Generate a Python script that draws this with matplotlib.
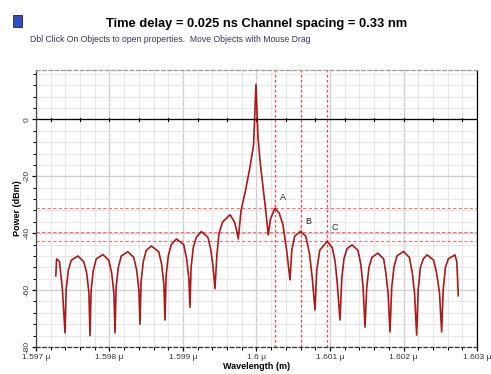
import numpy as np
import matplotlib
matplotlib.use("Agg")
import matplotlib.pyplot as plt
from matplotlib.patches import Rectangle

plt.rcParams['font.family'] = ['Liberation Sans', 'DejaVu Sans']

# spectrum (wavelength in micron, power in dBm)
wl = [1.59727, 1.59728, 1.59732, 1.59736, 1.597395,
      1.59741, 1.59744, 1.59748, 1.59757, 1.59765, 1.59769, 1.59772, 1.597735,
      1.59775, 1.59778, 1.59782, 1.59791, 1.59799, 1.59803, 1.59806, 1.598075,
      1.59809, 1.59812, 1.59816, 1.59825, 1.59833, 1.59837, 1.59840, 1.598415,
      1.59843, 1.59846, 1.59850, 1.59857, 1.59867, 1.59871, 1.59874, 1.598755,
      1.59877, 1.59880, 1.59884, 1.59891, 1.59901, 1.59905, 1.59908, 1.599095,
      1.59911, 1.59914, 1.59918, 1.59925, 1.59934, 1.59938, 1.59941, 1.599435,
      1.59946, 1.59949, 1.59954, 1.59964, 1.59970, 1.59973, 1.599752,
      1.59979, 1.59985, 1.59991, 1.59996, 1.599993, 1.60002, 1.60005, 1.60009, 1.60013, 1.60016,
      1.60019, 1.60025, 1.60031, 1.60036, 1.60041, 1.600456,
      1.60048, 1.60052, 1.60060, 1.60067, 1.60072, 1.60076, 1.600796,
      1.60082, 1.60086, 1.60096, 1.60103, 1.60107, 1.60110, 1.601136,
      1.60116, 1.60119, 1.60123, 1.60130, 1.60138, 1.60142, 1.60145, 1.601476,
      1.60150, 1.60153, 1.60157, 1.60165, 1.60173, 1.60176, 1.60179, 1.601816,
      1.60184, 1.60187, 1.60191, 1.60200, 1.60208, 1.60212, 1.60215, 1.602179,
      1.60220, 1.60223, 1.60227, 1.60232, 1.60241, 1.60245, 1.60249, 1.602519,
      1.60254, 1.60257, 1.60261, 1.60270, 1.602715, 1.602725, 1.602746]
power = [-55, -49, -50, -60, -75,
         -60, -53, -49.5, -48, -50, -54, -61, -76,
         -60, -53, -49, -47.5, -49.5, -54, -61, -75,
         -59, -52, -48, -46.5, -48.5, -53, -60, -72,
         -57, -50, -46, -44.5, -46.5, -51, -58, -70.5,
         -55, -48, -44, -42, -44, -49, -56, -66,
         -52, -45, -41.5, -39.4, -41.5, -46, -52, -59.5,
         -48, -40, -36, -33.5, -36, -39, -42,
         -32, -25, -17, -9, 12.3, -6, -15, -24, -33, -40.6,
         -35, -31.2, -33, -37, -46, -56.4,
         -46, -41, -39.4, -41, -47, -56, -67,
         -53, -46, -42.9, -45, -50, -58, -70.5,
         -56, -49, -45.5, -44.1, -46, -51, -59, -73,
         -59, -52, -48.5, -47, -49, -54, -61, -74.7,
         -59, -52, -48, -46.4, -48.5, -54, -61, -75.8,
         -60, -52, -49, -47.6, -49.5, -54, -61, -74.7,
         -60, -52, -49, -47.6, -49, -50, -62]

# markers A, B, C
mark_names = ['A', 'B', 'C']
mark_wl = [1.60025, 1.60060, 1.60096]
mark_pw = [-31.2, -39.4, -42.9]

xticks = [1.597, 1.598, 1.599, 1.600, 1.601, 1.602, 1.603]
xticklabels = ['1.597 \u03bc', '1.598 \u03bc', '1.599 \u03bc', '1.6 \u03bc', '1.601 \u03bc', '1.602 \u03bc', '1.603 \u03bc']
yticks = [0, -20, -40, -60, -80]

fig = plt.figure(figsize=(4.91, 3.74), dpi=100)
ax = fig.add_axes([0.0733, 0.0722, 0.8982, 0.7406])

ax.set_xlim(1.597, 1.603)
ax.set_ylim(-80, 17.4)

# grid
for x in np.arange(1.597, 1.6031, 0.0002):
    major = abs(round(x * 1000) - x * 1000) < 1e-6
    ax.axvline(x, color='#cfcfcf' if major else '#e6e6e6', lw=1.0 if major else 0.8, zorder=0)
for y in np.arange(-80, 17, 4):
    ax.axhline(y, color='#cfcfcf' if y % 20 == 0 else '#e6e6e6', lw=1.0 if y % 20 == 0 else 0.8, zorder=0)

# zero line with small ticks
ax.axhline(0, color='black', lw=0.9, zorder=1)
for x in np.arange(1.5972, 1.603, 0.0004):
    ax.plot([x, x], [-0.6, 0.6], color='black', lw=0.8, zorder=1)

ax.plot(wl, power, color='#a30000', lw=1.2, alpha=0.9, zorder=3)

# marker lines
label_dy = [3.6, 3.6, 5.0]
for w, p, n, dy in zip(mark_wl, mark_pw, mark_names, label_dy):
    ax.axvline(w, color='#ff3b3b', lw=0.9, ls=(0, (2, 2)), zorder=2)
    ax.axhline(p, color='#ff6a6a', lw=0.8, ls=(0, (3, 2)), zorder=2)
    ax.plot([w - 0.00004, w, w + 0.00004], [p - 1, p + 1.5, p - 1], color='#ff6a6a', lw=0.7, ls=':', zorder=4)
    ax.text(w + 0.00011, p + dy, n, fontsize=6.5, color='#222222', ha='center', va='center')

# spines
ax.spines['top'].set_linestyle((0, (3, 2)))
ax.spines['top'].set_color('#9a9a9a')
ax.spines['right'].set_linestyle((0, (1, 1)))
ax.spines['right'].set_color('black')
ax.spines['bottom'].set_linestyle((0, (3, 2)))
ax.spines['bottom'].set_color('#333333')
ax.spines['left'].set_color('#444444')
for s in ax.spines.values():
    s.set_linewidth(0.9)

ax.set_xticks(xticks)
ax.set_xticklabels(xticklabels, fontsize=6, color='#333333')
ax.set_xticks(np.arange(1.5972, 1.603, 0.0002), minor=True)
ax.set_yticks(yticks)
ax.set_yticklabels([str(v) for v in yticks], fontsize=6, color='#333333', rotation=90, va='center')
ax.set_yticks(np.arange(-76, 17, 4), minor=True)
ax.tick_params(axis='both', which='major', length=3, width=0.9, color='black', pad=2)
ax.tick_params(axis='y', which='major', pad=1)
ax.tick_params(axis='both', which='minor', length=2, width=0.7, color='black')

ax.set_xlabel('Wavelength (m)', fontsize=6.5, fontweight='bold', labelpad=1)
ax.set_ylabel('Power (dBm)', fontsize=6.5, fontweight='bold', labelpad=1)

fig.text(0.523, 0.935, 'Time delay = 0.025 ns Channel spacing = 0.33 nm', fontsize=9.3,
         fontweight='bold', ha='center', va='center')
fig.text(0.061, 0.895, 'Dbl Click On Objects to open properties.  Move Objects with Mouse Drag',
         fontsize=6.2, color='#333366', ha='left', va='center')
fig.patches.append(Rectangle((0.026, 0.928), 0.018, 0.032, transform=fig.transFigure,
                             facecolor='#3050c0', edgecolor='#1a1a60', lw=0.6))

fig.savefig('out.png', dpi=100)
